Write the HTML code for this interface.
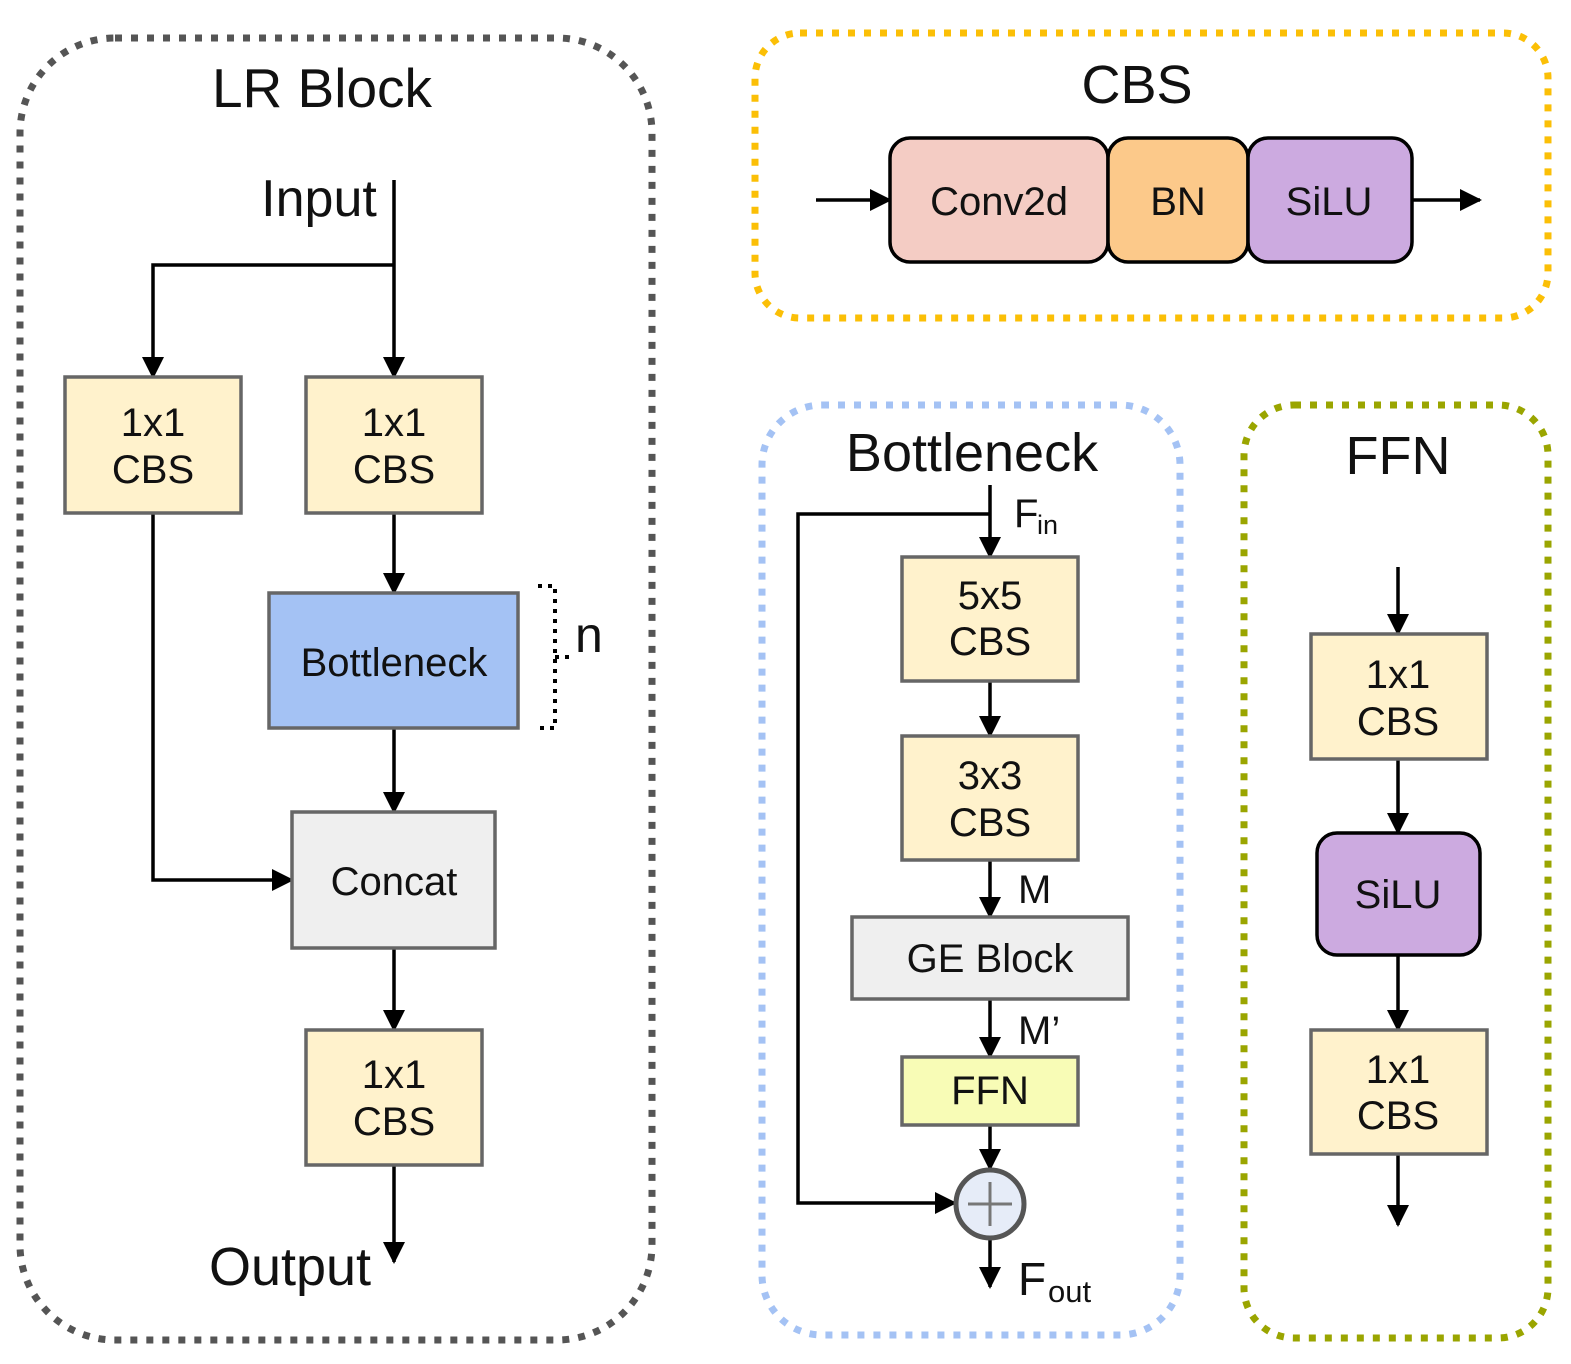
<!DOCTYPE html>
<html><head><meta charset="utf-8"><style>
html,body{margin:0;padding:0;background:#fff;}
svg{display:block;}
text{font-family:"Liberation Sans",sans-serif;fill:#111;}
</style></head><body>
<svg width="1571" height="1364" viewBox="0 0 1571 1364" xmlns="http://www.w3.org/2000/svg">
<defs>
<marker id="a" markerWidth="22" markerHeight="22" refX="20" refY="11" orient="auto" markerUnits="userSpaceOnUse">
<path d="M0,0 L22,11 L0,22 Z" fill="#000"/></marker>
</defs>
<rect x="20" y="38" width="632" height="1302" rx="95" fill="none" stroke="#555" stroke-width="7" stroke-dasharray="7 9"/>
<rect x="755" y="33" width="793" height="285" rx="45" fill="none" stroke="#fbbf06" stroke-width="7" stroke-dasharray="7 9"/>
<rect x="762" y="405" width="418" height="930" rx="60" fill="none" stroke="#a4c2f4" stroke-width="7" stroke-dasharray="7 9"/>
<rect x="1244" y="405" width="304" height="933" rx="50" fill="none" stroke="#9aa500" stroke-width="7" stroke-dasharray="7 9"/>

<text x="322" y="107" font-size="55" text-anchor="middle">LR Block</text>
<text x="319" y="216" font-size="52" text-anchor="middle">Input</text>
<g stroke="#000" stroke-width="3.5" fill="none">
<line x1="394" y1="180" x2="394" y2="377" marker-end="url(#a)"/>
<polyline points="394,265 153,265 153,377" marker-end="url(#a)"/>
<line x1="394" y1="513" x2="394" y2="593" marker-end="url(#a)"/>
<polyline points="153,513 153,880 292,880" marker-end="url(#a)"/>
<line x1="394" y1="728" x2="394" y2="812" marker-end="url(#a)"/>
<line x1="394" y1="948" x2="394" y2="1030" marker-end="url(#a)"/>
<line x1="394" y1="1165" x2="394" y2="1262" marker-end="url(#a)"/>
</g>
<g stroke="#666" stroke-width="3.5">
<rect x="65" y="377" width="176" height="136" fill="#fff2cc"/>
<rect x="306" y="377" width="176" height="136" fill="#fff2cc"/>
<rect x="269" y="593" width="249" height="135" fill="#a4c2f4"/>
<rect x="292" y="812" width="203" height="136" fill="#efefef"/>
<rect x="306" y="1030" width="176" height="135" fill="#fff2cc"/>
</g>
<g font-size="40" text-anchor="middle">
<text x="153" y="436">1x1</text><text x="153" y="483">CBS</text>
<text x="394" y="436">1x1</text><text x="394" y="483">CBS</text>
<text x="394" y="676">Bottleneck</text>
<text x="394" y="895">Concat</text>
<text x="394" y="1088">1x1</text><text x="394" y="1135">CBS</text>
</g>
<path d="M538,586 L555,586 L555,728 L538,728 M555,657 L572,657" fill="none" stroke="#000" stroke-width="4" stroke-dasharray="4 6"/>
<text x="575" y="652" font-size="50">n</text>
<text x="290" y="1285" font-size="54" text-anchor="middle">Output</text>

<text x="1137" y="103" font-size="54" text-anchor="middle">CBS</text>
<g stroke="#000" stroke-width="3.5" fill="none">
<line x1="816" y1="200" x2="890" y2="200" marker-end="url(#a)"/>
<line x1="1412" y1="200" x2="1480" y2="200" marker-end="url(#a)"/>
</g>
<g stroke="#000" stroke-width="3.5">
<rect x="890" y="138" width="218" height="124" rx="20" fill="#f4ccc4"/>
<rect x="1108" y="138" width="140" height="124" rx="20" fill="#fcc98a"/>
<rect x="1248" y="138" width="164" height="124" rx="20" fill="#ccaae0"/>
</g>
<g font-size="40" text-anchor="middle">
<text x="999" y="215">Conv2d</text>
<text x="1178" y="215">BN</text>
<text x="1329" y="215">SiLU</text>
</g>

<text x="972" y="471" font-size="54" text-anchor="middle">Bottleneck</text>
<g stroke="#000" stroke-width="3.5" fill="none">
<line x1="990" y1="485" x2="990" y2="557" marker-end="url(#a)"/>
<polyline points="990,514 798,514 798,1203 955,1203" marker-end="url(#a)"/>
<line x1="990" y1="681" x2="990" y2="736" marker-end="url(#a)"/>
<line x1="990" y1="860" x2="990" y2="917" marker-end="url(#a)"/>
<line x1="990" y1="999" x2="990" y2="1057" marker-end="url(#a)"/>
<line x1="990" y1="1125" x2="990" y2="1169" marker-end="url(#a)"/>
<line x1="990" y1="1239" x2="990" y2="1287" marker-end="url(#a)"/>
</g>
<text x="1014" y="527" font-size="40">F</text><text x="1037" y="534" font-size="27">in</text>
<g stroke="#666" stroke-width="3.5">
<rect x="902" y="557" width="176" height="124" fill="#fff2cc"/>
<rect x="902" y="736" width="176" height="124" fill="#fff2cc"/>
<rect x="852" y="917" width="276" height="82" fill="#efefef"/>
<rect x="902" y="1057" width="176" height="68" fill="#f8fcb6"/>
</g>
<g font-size="40" text-anchor="middle">
<text x="990" y="609">5x5</text><text x="990" y="655">CBS</text>
<text x="990" y="789">3x3</text><text x="990" y="836">CBS</text>
<text x="990" y="972">GE Block</text>
<text x="990" y="1104">FFN</text>
</g>
<text x="1018" y="903" font-size="40">M</text>
<text x="1018" y="1044" font-size="40">M’</text>
<circle cx="990" cy="1204" r="34" fill="#e6ecf8" stroke="#555" stroke-width="5"/>
<path d="M968,1204 H1012 M990,1182 V1226" stroke="#777" stroke-width="3"/>
<text x="1018" y="1295" font-size="46">F</text><text x="1048" y="1302" font-size="31">out</text>

<text x="1398" y="474" font-size="54" text-anchor="middle">FFN</text>
<g stroke="#000" stroke-width="3.5" fill="none">
<line x1="1398" y1="567" x2="1398" y2="634" marker-end="url(#a)"/>
<line x1="1398" y1="759" x2="1398" y2="833" marker-end="url(#a)"/>
<line x1="1398" y1="955" x2="1398" y2="1030" marker-end="url(#a)"/>
<line x1="1398" y1="1154" x2="1398" y2="1225" marker-end="url(#a)"/>
</g>
<g stroke="#666" stroke-width="3.5">
<rect x="1311" y="634" width="176" height="125" fill="#fff2cc"/>
<rect x="1311" y="1030" width="176" height="124" fill="#fff2cc"/>
</g>
<rect x="1317" y="833" width="163" height="122" rx="20" fill="#ccaae0" stroke="#000" stroke-width="3.5"/>
<g font-size="40" text-anchor="middle">
<text x="1398" y="688">1x1</text><text x="1398" y="735">CBS</text>
<text x="1398" y="908">SiLU</text>
<text x="1398" y="1083">1x1</text><text x="1398" y="1129">CBS</text>
</g>
</svg>
</body></html>
